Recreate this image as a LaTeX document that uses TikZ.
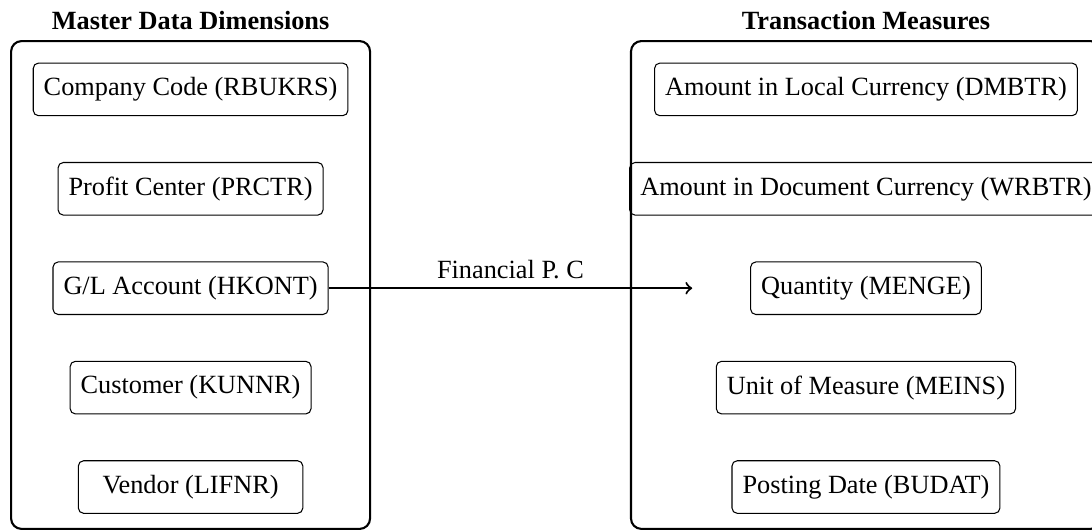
\documentclass[tikz,border=0pt]{standalone}
\usepackage{fontspec}
\setmainfont{Liberation Serif}
\usetikzlibrary{arrows,positioning}

\begin{document}
\begin{tikzpicture}[>=to,auto,node distance=37.8pt,semithick]
  \tikzstyle{field}=[draw,thin,rounded corners=2pt,minimum height=20pt,minimum width=3cm,inner xsep=4pt]
  \tikzstyle{group}=[draw,thick,rounded corners=4pt,minimum height=6.52cm]
  \tikzstyle{heading}=[font=\bfseries,anchor=base]

  \useasboundingbox (0,0) rectangle (14.594,7.097);

  % the two groups
  \node[group,minimum width=4.798cm] (master) at (2.547,3.288) {};
  \node[group,minimum width=6.281cm] (trans)  at (11.573,3.288) {};
  \node[heading] (mtitle) at (2.547,6.696)  {Master Data Dimensions};
  \node[heading] (ttitle) at (11.573,6.696) {Transaction Measures};

  % master data
  \node[field] (bukrs) at (2.547,5.902) {Company Code (RBUKRS)};
  \node[field] (prctr) [below of=bukrs] {Profit Center (PRCTR)};
  \node[field] (hkont) [below of=prctr] {G/L Account (HKONT)};
  \node[field] (kunnr) [below of=hkont] {Customer (KUNNR)};
  \node[field] (lifnr) [below of=kunnr] {Vendor (LIFNR)};

  % measures
  \node[field] (dmbtr) at (11.573,5.902) {Amount in Local Currency (DMBTR)};
  \node[field] (wrbtr) [below of=dmbtr] {Amount in Document Currency (WRBTR)};
  \node[field] (menge) [below of=wrbtr] {Quantity (MENGE)};
  \node[field] (meins) [below of=menge] {Unit of Measure (MEINS)};
  \node[field] (budat) [below of=meins] {Posting Date (BUDAT)};

  \coordinate [left=22pt of menge] (fpc);

  \path[->,thick]
  (hkont) edge node {Financial P. C} (fpc);
\end{tikzpicture}
\end{document}
